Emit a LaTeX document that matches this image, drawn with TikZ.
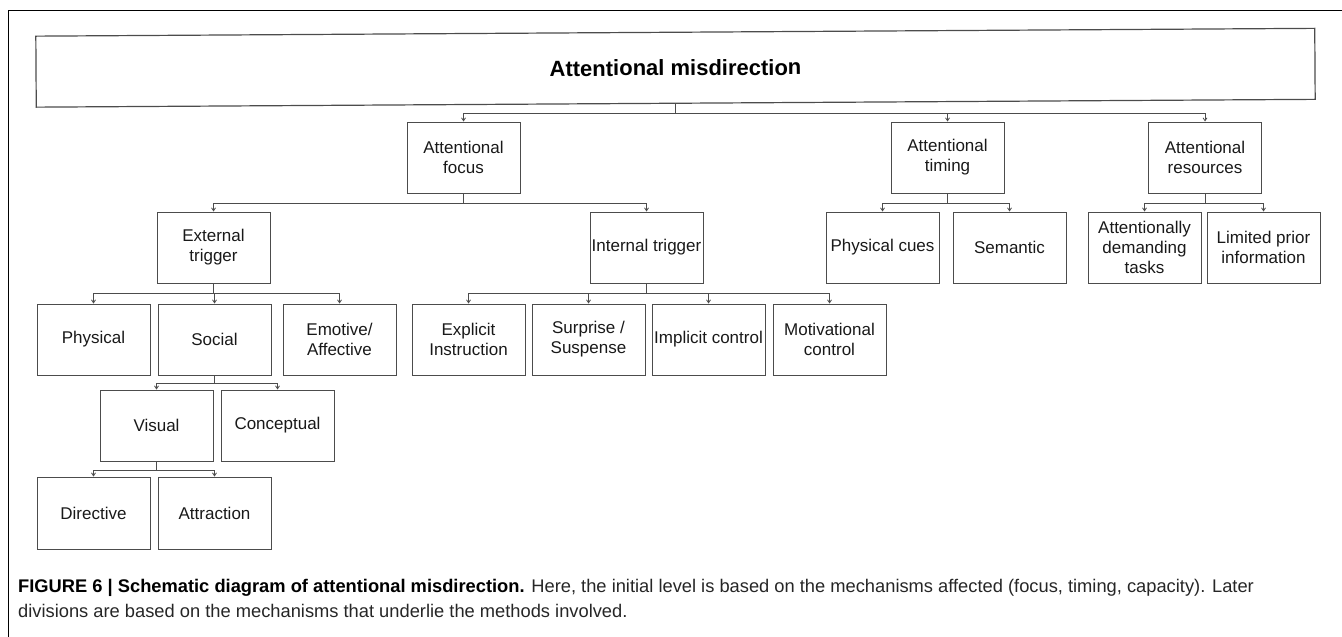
\documentclass[tikz,border=0pt]{standalone}
\usepackage{fontspec}
\setmainfont{Liberation Sans}
\usetikzlibrary{arrows.meta}
\begin{document}
\begin{tikzpicture}[x=1pt,y=-1pt,
  box/.style={draw=black!70,line width=1pt,minimum width=113pt,minimum height=71pt,inner sep=1pt,align=center,font=\fontsize{17}{20}\selectfont,text=black!90},
  conn/.style={draw=black!70,line width=0.8pt,-{Straight Barb[length=3pt,width=4pt]}},
  captxt/.style={anchor=west,inner sep=0pt,font=\fontsize{18.3}{22}\selectfont,text=black!85}]
\useasboundingbox (0,0) rectangle (1342,637);
\draw[black,line width=1pt] (8,637) -- (8,10) -- (1342,10);
% title box
\node[draw=black!70,line width=1.2pt,minimum width=1279pt,minimum height=71pt,rotate=0.35,
      font=\bfseries\fontsize{22}{26}\selectfont] (top) at (675.5,67.75) {Attentional misdirection};
% level 2
\node[box] (focus) at (463.5,157.5) {Attentional\\focus};
\node[box] (timing) at (947.5,157.5) {Attentional\\timing};
\node[box] (res) at (1205,157.5) {Attentional\\resources};
% level 3
\node[box] (ext) at (213.5,247.5) {External\\trigger};
\node[box] (int) at (646.5,247.5) {Internal trigger};
\node[box] (pcues) at (882.5,247.5) {Physical cues};
\node[box] (sem) at (1009.5,247.5) {Semantic};
\node[box] (dem) at (1144.5,247.5) {Attentionally\\demanding\\tasks};
\node[box] (lim) at (1263.5,247.5) {Limited prior\\information};
% level 4
\node[box] (phys) at (93.5,339.5) {Physical};
\node[box] (soc) at (214.5,339.5) {Social};
\node[box] (emo) at (339.5,339.5) {Emotive/\\Affective};
\node[box] (expl) at (468.5,339.5) {Explicit\\Instruction};
\node[box] (surp) at (588.5,339.5) {Surprise /\\Suspense};
\node[box] (impl) at (708.5,339.5) {Implicit control};
\node[box] (mot) at (829.5,339.5) {Motivational\\control};
% level 5
\node[box] (vis) at (156.5,425.5) {Visual};
\node[box] (conc) at (277.5,425.5) {Conceptual};
% level 6
\node[box,minimum height=72pt] (dir) at (93.5,513) {Directive};
\node[box,minimum height=72pt] (attr) at (214.5,513) {Attraction};
% connectors
\foreach \c in {focus,timing,res} \draw[conn] (top.south) -- ++(0,9.5) -| (\c.north);
\foreach \c in {ext,int} \draw[conn] (focus.south) -- ++(0,10) -| (\c.north);
\foreach \c in {pcues,sem} \draw[conn] (timing.south) -- ++(0,10) -| (\c.north);
\foreach \c in {dem,lim} \draw[conn] (res.south) -- ++(0,10) -| (\c.north);
\foreach \c in {phys,soc,emo} \draw[conn] (ext.south) -- ++(0,10) -| (\c.north);
\foreach \c in {expl,surp,impl,mot} \draw[conn] (int.south) -- ++(0,10) -| (\c.north);
\foreach \c in {vis,conc} \draw[conn] (soc.south) -- ++(0,8) -| (\c.north);
\foreach \c in {dir,attr} \draw[conn] (vis.south) -- ++(0,9) -| (\c.north);
% caption
\node[captxt] (cap1) at (18,588) {\textbf{\color{black}FIGURE 6 | Schematic diagram of attentional misdirection.} Here, the initial level is based on the mechanisms affected (focus, timing, capacity). Later};
\node[captxt] (cap2) at (18,611) {divisions are based on the mechanisms that underlie the methods involved.};
\end{tikzpicture}
\end{document}
